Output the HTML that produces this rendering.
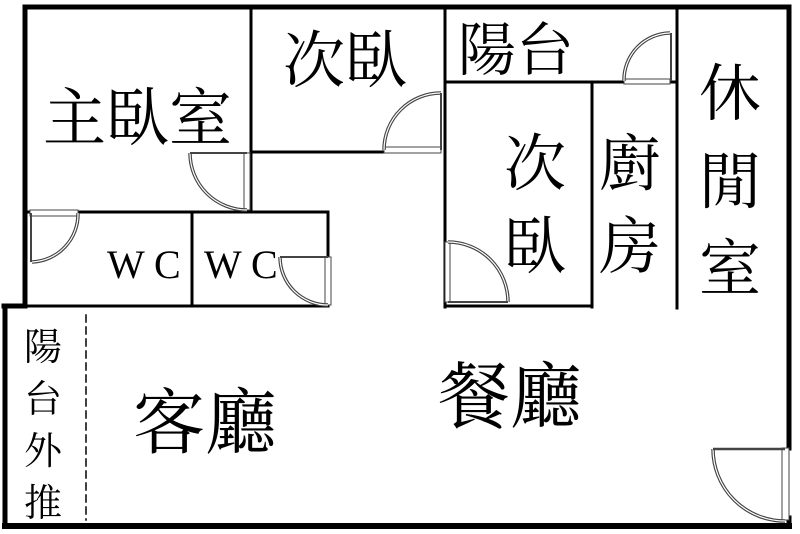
<!DOCTYPE html>
<html><head><meta charset="utf-8"><style>
html,body{margin:0;padding:0;background:#fff;}
svg{display:block;}
text{font-family:"Liberation Serif","Noto Serif CJK SC","Noto Sans CJK TC",serif;fill:#000;}
</style></head><body>
<svg width="800" height="534" viewBox="0 0 800 534" xmlns="http://www.w3.org/2000/svg">
<g stroke="#000" fill="none" stroke-linecap="square">
<!-- outer walls -->
<line x1="25" y1="7" x2="789" y2="7" stroke-width="5"/>
<line x1="25" y1="7" x2="25" y2="306" stroke-width="5"/>
<line x1="789" y1="7" x2="789" y2="448" stroke-width="5"/>
<line x1="4" y1="306" x2="25" y2="306" stroke-width="5"/>
<line x1="5" y1="306" x2="5" y2="526" stroke-width="5"/>
<line x1="5" y1="526" x2="789" y2="526" stroke-width="6"/>
<line x1="789" y1="518" x2="789" y2="526" stroke-width="5"/>
<!-- interior -->
<line x1="251" y1="7" x2="251" y2="212" stroke-width="3"/>
<line x1="251" y1="152" x2="385" y2="152" stroke-width="3"/>
<line x1="445" y1="7" x2="445" y2="307" stroke-width="3"/>
<line x1="445" y1="82" x2="677" y2="82" stroke-width="3"/>
<line x1="677" y1="7" x2="677" y2="308" stroke-width="3"/>
<line x1="592" y1="82" x2="592" y2="307" stroke-width="3"/>
<line x1="445" y1="306" x2="592" y2="306" stroke-width="3"/>
<line x1="28" y1="212" x2="328" y2="212" stroke-width="3"/>
<line x1="192" y1="212" x2="192" y2="306" stroke-width="3"/>
<line x1="328" y1="212" x2="328" y2="258" stroke-width="3"/>
<line x1="25" y1="306" x2="328" y2="306" stroke-width="3"/>
<line x1="86" y1="315" x2="86" y2="520" stroke-width="1.5" stroke-dasharray="7,5"/>
</g>
<!-- doors -->
<g fill="#fff" stroke="#444" stroke-width="1">
<!-- master door -->
<rect x="244" y="153" width="6" height="57"/>
<path d="M190 153 A57 57 0 0 0 247 210" fill="none" stroke-width="3.5"/><path d="M190 153 A57 57 0 0 0 247 210" fill="none" stroke="#fff" stroke-width="1.2"/>
<line x1="190" y1="153" x2="247" y2="153" stroke-width="2"/>
<!-- 次臥 top door -->
<rect x="384" y="147" width="57" height="6"/>
<path d="M384 150 A57 57 0 0 1 441 93" fill="none" stroke-width="3.5"/><path d="M384 150 A57 57 0 0 1 441 93" fill="none" stroke="#fff" stroke-width="1.2"/>
<line x1="441" y1="93" x2="441" y2="150" stroke-width="2"/>
<!-- WC1 -->
<rect x="30" y="210" width="48" height="6"/>
<path d="M78 213 A48 48 0 0 1 32 262" fill="none" stroke-width="3.5"/><path d="M78 213 A48 48 0 0 1 32 262" fill="none" stroke="#fff" stroke-width="1.2"/>
<line x1="31" y1="213" x2="31" y2="262" stroke-width="2"/>
<!-- WC2 -->
<rect x="325" y="257" width="6" height="48"/>
<path d="M280 257 A48 48 0 0 0 328 305" fill="none" stroke-width="3.5"/><path d="M280 257 A48 48 0 0 0 328 305" fill="none" stroke="#fff" stroke-width="1.2"/>
<line x1="280" y1="257" x2="328" y2="257" stroke-width="2"/>
<!-- balcony -->
<rect x="624" y="79" width="46" height="5"/>
<path d="M624 81 A47 47 0 0 1 670 33" fill="none" stroke-width="3.5"/><path d="M624 81 A47 47 0 0 1 670 33" fill="none" stroke="#fff" stroke-width="1.2"/>
<line x1="671" y1="33" x2="671" y2="81" stroke-width="2"/>
<!-- 次臥 lower door -->
<rect x="445" y="242" width="5" height="60"/>
<path d="M448 242 A60 60 0 0 1 508 302" fill="none" stroke-width="3.5"/><path d="M448 242 A60 60 0 0 1 508 302" fill="none" stroke="#fff" stroke-width="1.2"/>
<line x1="448" y1="302" x2="508" y2="302" stroke-width="2"/>
<!-- right door -->
<rect x="782" y="448" width="7" height="72"/>
<path d="M713 449 A72 72 0 0 0 785 521" fill="none" stroke-width="3.5"/><path d="M713 449 A72 72 0 0 0 785 521" fill="none" stroke="#fff" stroke-width="1.2"/>
<line x1="713" y1="449" x2="785" y2="449" stroke-width="2.5"/>
</g>
<!-- labels -->
<text x="43" y="140" font-size="63">主臥室</text>
<text x="283" y="82" font-size="62">次臥</text>
<text x="458" y="70" font-size="58">陽台</text>
<text x="504" y="185" font-size="62">次</text>
<text x="504" y="268" font-size="62">臥</text>
<text x="599" y="185" font-size="62">廚</text>
<text x="599" y="268" font-size="62">房</text>
<text x="699" y="115" font-size="62">休</text>
<text x="699" y="203" font-size="62">閒</text>
<text x="699" y="290" font-size="62">室</text>
<text x="107" y="278" font-size="40">W C</text>
<text x="204" y="278" font-size="40">W C</text>
<text x="24" y="360" font-size="38">陽</text>
<text x="24" y="412" font-size="38">台</text>
<text x="24" y="464" font-size="38">外</text>
<text x="24" y="516" font-size="38">推</text>
<text x="133" y="448" font-size="72">客廳</text>
<text x="438" y="422" font-size="72">餐廳</text>
</svg>
</body></html>
